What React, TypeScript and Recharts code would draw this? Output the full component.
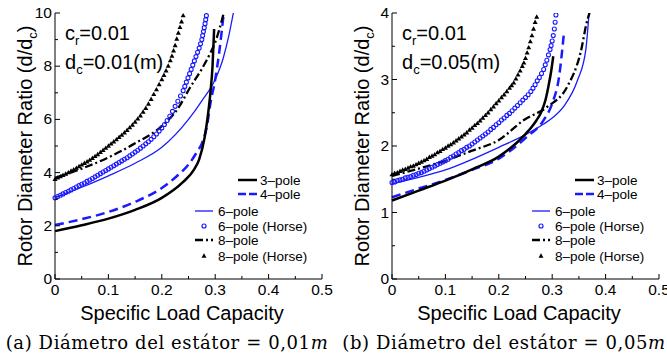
import React from 'react';
import { LineChart, Line, XAxis, YAxis } from 'recharts';

// ---- data ----
const xTicks = [0, 0.05, 0.1, 0.15, 0.2, 0.25, 0.3, 0.35, 0.4, 0.45, 0.5];
const yTicksA = [0, 1, 2, 3, 4, 5, 6, 7, 8, 9, 10];
const yTicksB = [0, 0.5, 1, 1.5, 2, 2.5, 3, 3.5, 4];

// panel (a): d_c = 0.01 m
const pole3A = [[0, 1.8], [0.05, 2.02], [0.1, 2.27], [0.15, 2.6], [0.2, 3.05], [0.24, 3.65], [0.26, 4.1], [0.27, 4.5], [0.28, 5.3], [0.286, 6.1], [0.291, 7.0], [0.295, 8.0], [0.298, 9.4]];
const pole4A = [[0, 2.03], [0.05, 2.25], [0.1, 2.52], [0.15, 2.9], [0.2, 3.42], [0.23, 3.9], [0.25, 4.3], [0.265, 4.75], [0.275, 5.1], [0.285, 5.8], [0.291, 6.6], [0.3, 7.5], [0.308, 8.6], [0.316, 10]];
const pole6A = [[0, 3.07], [0.05, 3.45], [0.1, 3.88], [0.15, 4.35], [0.2, 4.95], [0.25, 6.0], [0.275, 6.7], [0.3, 7.5], [0.315, 8.3], [0.325, 9.1], [0.334, 10]];
const pole6hA = [[0, 3.05], [0.005, 3.1], [0.01, 3.15], [0.015, 3.2], [0.02, 3.25], [0.025, 3.3], [0.03, 3.35], [0.035, 3.4], [0.04, 3.46], [0.045, 3.51], [0.05, 3.56], [0.055, 3.61], [0.06, 3.67], [0.065, 3.72], [0.07, 3.78], [0.075, 3.84], [0.08, 3.9], [0.085, 3.96], [0.09, 4.02], [0.095, 4.08], [0.1, 4.14], [0.105, 4.2], [0.11, 4.26], [0.115, 4.32], [0.12, 4.38], [0.125, 4.44], [0.13, 4.5], [0.135, 4.56], [0.14, 4.63], [0.145, 4.7], [0.15, 4.77], [0.155, 4.84], [0.16, 4.92], [0.165, 5.0], [0.17, 5.08], [0.175, 5.16], [0.18, 5.25], [0.185, 5.35], [0.19, 5.45], [0.195, 5.56], [0.2, 5.68], [0.205, 5.81], [0.21, 5.96], [0.215, 6.12], [0.22, 6.3], [0.225, 6.49], [0.23, 6.68], [0.235, 6.88], [0.24, 7.08], [0.243, 7.24], [0.246, 7.4], [0.249, 7.56], [0.252, 7.72], [0.255, 7.88], [0.258, 8.04], [0.261, 8.2], [0.264, 8.36], [0.267, 8.52], [0.27, 8.68], [0.2725, 8.84], [0.275, 9.0], [0.2765, 9.15], [0.278, 9.3], [0.2795, 9.45], [0.281, 9.6], [0.2822, 9.75], [0.2835, 9.9]];
const pole8A = [[0, 3.8], [0.05, 4.15], [0.1, 4.57], [0.15, 5.1], [0.2, 5.75], [0.23, 6.4], [0.253, 7.2], [0.275, 7.9], [0.291, 8.5], [0.3, 8.9], [0.308, 9.4], [0.316, 10]];
const pole8hA = [[0, 3.75], [0.005, 3.8], [0.01, 3.85], [0.015, 3.9], [0.02, 3.95], [0.025, 4.0], [0.03, 4.06], [0.035, 4.11], [0.04, 4.17], [0.045, 4.23], [0.05, 4.29], [0.055, 4.35], [0.06, 4.41], [0.065, 4.47], [0.07, 4.54], [0.075, 4.61], [0.08, 4.68], [0.085, 4.76], [0.09, 4.84], [0.095, 4.92], [0.1, 5.0], [0.105, 5.08], [0.11, 5.16], [0.115, 5.24], [0.12, 5.33], [0.125, 5.41], [0.13, 5.5], [0.135, 5.59], [0.14, 5.69], [0.145, 5.79], [0.15, 5.9], [0.155, 6.02], [0.16, 6.14], [0.165, 6.28], [0.17, 6.42], [0.175, 6.58], [0.18, 6.76], [0.185, 6.94], [0.19, 7.12], [0.195, 7.31], [0.2, 7.5], [0.204, 7.66], [0.208, 7.83], [0.212, 8.01], [0.216, 8.21], [0.219, 8.38], [0.222, 8.58], [0.225, 8.78], [0.228, 9.02], [0.231, 9.25], [0.234, 9.46], [0.237, 9.67], [0.24, 9.9]];

// panel (b): d_c = 0.05 m
const pole3B = [[0, 1.18], [0.05, 1.33], [0.1, 1.48], [0.15, 1.65], [0.2, 1.84], [0.25, 2.18], [0.26, 2.27], [0.27, 2.38], [0.28, 2.52], [0.287, 2.68], [0.293, 2.9], [0.298, 3.12], [0.302, 3.35]];
const pole4B = [[0, 1.23], [0.05, 1.36], [0.1, 1.49], [0.15, 1.64], [0.2, 1.81], [0.25, 2.12], [0.284, 2.39], [0.3, 2.64], [0.313, 3.05], [0.322, 3.7]];
const pole6B = [[0, 1.43], [0.05, 1.53], [0.1, 1.64], [0.15, 1.8], [0.2, 1.98], [0.25, 2.17], [0.284, 2.33], [0.3, 2.42], [0.322, 2.6], [0.347, 2.98], [0.363, 3.45], [0.369, 4.0]];
const pole6hB = [[0, 1.45], [0.005, 1.46], [0.01, 1.48], [0.015, 1.49], [0.02, 1.5], [0.025, 1.52], [0.03, 1.53], [0.035, 1.54], [0.04, 1.56], [0.045, 1.57], [0.05, 1.59], [0.055, 1.6], [0.06, 1.62], [0.065, 1.64], [0.07, 1.66], [0.075, 1.68], [0.08, 1.7], [0.085, 1.72], [0.09, 1.74], [0.095, 1.76], [0.1, 1.78], [0.105, 1.8], [0.11, 1.83], [0.115, 1.85], [0.12, 1.88], [0.125, 1.9], [0.13, 1.93], [0.135, 1.95], [0.14, 1.98], [0.145, 2.0], [0.15, 2.03], [0.155, 2.06], [0.16, 2.09], [0.165, 2.12], [0.17, 2.15], [0.175, 2.18], [0.18, 2.21], [0.185, 2.25], [0.19, 2.28], [0.195, 2.32], [0.2, 2.35], [0.205, 2.39], [0.21, 2.42], [0.215, 2.46], [0.22, 2.49], [0.225, 2.53], [0.23, 2.57], [0.235, 2.61], [0.24, 2.65], [0.245, 2.69], [0.25, 2.73], [0.255, 2.77], [0.26, 2.82], [0.264, 2.87], [0.268, 2.92], [0.272, 2.98], [0.276, 3.03], [0.28, 3.09], [0.284, 3.15], [0.287, 3.22], [0.29, 3.29], [0.293, 3.37], [0.296, 3.45], [0.298, 3.51], [0.3, 3.58], [0.302, 3.66], [0.304, 3.76], [0.3055, 3.86], [0.307, 3.97]];
const pole8B = [[0, 1.55], [0.05, 1.66], [0.1, 1.78], [0.15, 1.93], [0.2, 2.09], [0.247, 2.39], [0.291, 2.59], [0.328, 2.89], [0.353, 3.4], [0.366, 3.9], [0.37, 4.0]];
const pole8hB = [[0, 1.57], [0.005, 1.59], [0.01, 1.6], [0.015, 1.62], [0.02, 1.64], [0.025, 1.65], [0.03, 1.67], [0.035, 1.69], [0.04, 1.7], [0.045, 1.72], [0.05, 1.74], [0.055, 1.76], [0.06, 1.78], [0.065, 1.8], [0.07, 1.83], [0.075, 1.85], [0.08, 1.87], [0.085, 1.9], [0.09, 1.92], [0.095, 1.95], [0.1, 1.97], [0.105, 2.0], [0.11, 2.02], [0.115, 2.05], [0.12, 2.08], [0.125, 2.11], [0.13, 2.14], [0.135, 2.17], [0.14, 2.2], [0.145, 2.24], [0.15, 2.27], [0.155, 2.31], [0.16, 2.34], [0.165, 2.38], [0.17, 2.42], [0.175, 2.46], [0.18, 2.5], [0.185, 2.55], [0.19, 2.59], [0.195, 2.64], [0.2, 2.68], [0.205, 2.73], [0.21, 2.77], [0.215, 2.82], [0.22, 2.87], [0.224, 2.91], [0.228, 2.95], [0.232, 3.01], [0.236, 3.07], [0.24, 3.13], [0.244, 3.2], [0.247, 3.25], [0.25, 3.32], [0.253, 3.4], [0.256, 3.48], [0.259, 3.57], [0.262, 3.66], [0.265, 3.76], [0.268, 3.86], [0.271, 3.94]];

const BLUE = '#1a1aff';
const SANS = '"Liberation Sans", Arial, sans-serif';
const pts = (a: number[][]) => a.map(([x, y]) => ({ x, y }));
const near = (v: number, step: number) => Math.abs(v / step - Math.round(v / step)) < 1e-6;

// inward ticks, labels outside
const BottomTick = ({ x, y, payload }: any) => {
  const v = payload.value;
  const major = near(v, 0.1);
  return (
    <g>
      <line x1={x} x2={x} y1={y} y2={y - (major ? 5 : 3)} stroke="#000" />
      {major && (
        <text x={x} y={y + 16} textAnchor="middle" fontSize={15.5} fontFamily={SANS} fill="#000">
          {v === 0 ? '0' : String(Math.round(v * 10) / 10)}
        </text>
      )}
    </g>
  );
};
const TopTick = ({ x, y, payload }: any) => (
  <line x1={x} x2={x} y1={y} y2={y + (near(payload.value, 0.1) ? 5 : 3)} stroke="#000" />
);
const makeLeftTick = (step: number) => ({ x, y, payload }: any) => {
  const major = near(payload.value, step);
  return (
    <g>
      <line x1={x} x2={x + (major ? 5 : 3)} y1={y} y2={y} stroke="#000" />
      {major && (
        <text x={x - 3} y={y + 5} textAnchor="end" fontSize={15.5} fontFamily={SANS} fill="#000">
          {payload.value}
        </text>
      )}
    </g>
  );
};
const makeRightTick = (step: number) => ({ x, y, payload }: any) => (
  <line x1={x} x2={x - (near(payload.value, step) ? 5 : 3)} y1={y} y2={y} stroke="#000" />
);

const Tri = (props: any) => {
  const { cx, cy, index } = props;
  if (cx == null || cy == null) return <g key={index} />;
  return <path key={index} d={`M${cx},${cy - 2.7}L${cx + 2.5},${cy + 1.7}L${cx - 2.5},${cy + 1.7}Z`} fill="#000" />;
};

const Legend6 = () => (
  <svg width={335} height={300} style={{ position: 'absolute', left: 0, top: 0, pointerEvents: 'none' }}>
    <g fontFamily={SANS} fontSize={13.5} fill="#000">
      <line x1={238} x2={257} y1={180} y2={180} stroke="#000" strokeWidth={2.5} />
      <text x={260} y={185}>3–pole</text>
      <line x1={238} x2={257} y1={194} y2={194} stroke={BLUE} strokeWidth={2.5} strokeDasharray="8 3" />
      <text x={260} y={199}>4–pole</text>
      <line x1={195} x2={213} y1={211} y2={211} stroke={BLUE} strokeWidth={1.3} />
      <text x={218} y={216}>6–pole</text>
      <circle cx={204} cy={226} r={2} stroke={BLUE} strokeWidth={1.2} fill="none" />
      <text x={218} y={231}>6–pole (Horse)</text>
      <line x1={195} x2={213} y1={240} y2={240} stroke="#000" strokeWidth={2.3} strokeDasharray="8 3 2 3" />
      <text x={218} y={245}>8–pole</text>
      <path d="M204,253.3L206.5,257.7L201.5,257.7Z" fill="#000" />
      <text x={218} y={261}>8–pole (Horse)</text>
    </g>
  </svg>
);

const sub = { fontSize: 13, lineHeight: 0 };

const Panel = ({ left, yMax, yTicks, yStep, s, dc, dcComma, tag }: any) => (
  <div style={{ position: 'absolute', left, top: 0, width: 335, height: 364 }}>
    <LineChart width={335} height={300} margin={{ top: 13, right: 13, left: 5, bottom: 0 }}>
      <XAxis type="number" dataKey="x" domain={[0, 0.5]} ticks={xTicks} interval={0} height={21}
        tickSize={0} tickMargin={0} tickLine={false} axisLine={{ stroke: '#000' }} tick={<BottomTick />} />
      <XAxis xAxisId="top" orientation="top" type="number" dataKey="x" domain={[0, 0.5]} ticks={xTicks} interval={0} height={0}
        tickSize={0} tickMargin={0} tickLine={false} axisLine={{ stroke: '#000' }} tick={<TopTick />} />
      <YAxis type="number" domain={[0, yMax]} ticks={yTicks} interval={0} width={50} allowDataOverflow
        tickSize={0} tickMargin={0} tickLine={false} axisLine={{ stroke: '#000' }} tick={makeLeftTick(yStep)} />
      <YAxis yAxisId="right" orientation="right" type="number" domain={[0, yMax]} ticks={yTicks} interval={0} width={0}
        tickSize={0} tickMargin={0} tickLine={false} axisLine={{ stroke: '#000' }} tick={makeRightTick(yStep)} />
      <Line data={pts(s.p6)} dataKey="y" type="monotone" stroke={BLUE} strokeWidth={1.3} dot={false} isAnimationActive={false} />
      <Line data={pts(s.p4)} dataKey="y" type="monotone" stroke={BLUE} strokeWidth={2.5} strokeDasharray="9 5" dot={false} isAnimationActive={false} />
      <Line data={pts(s.p3)} dataKey="y" type="monotone" stroke="#000" strokeWidth={2.5} dot={false} isAnimationActive={false} />
      <Line data={pts(s.p8)} dataKey="y" type="monotone" stroke="#000" strokeWidth={2.3} strokeDasharray="8 3 2 3" dot={false} isAnimationActive={false} />
      <Line data={pts(s.p6h)} dataKey="y" stroke="none" dot={{ r: 2, stroke: BLUE, strokeWidth: 1.1, fill: 'none' }} isAnimationActive={false} />
      <Line data={pts(s.p8h)} dataKey="y" stroke="none" dot={<Tri />} isAnimationActive={false} />
    </LineChart>
    <Legend6 />
    <div style={{ position: 'absolute', left: 65, top: 19, fontFamily: SANS, fontSize: 20, lineHeight: '29px', whiteSpace: 'nowrap', color: '#000' }}>
      <div>c<sub style={sub}>r</sub>=0.01</div>
      <div>d<sub style={sub}>c</sub>={dc}(m)</div>
    </div>
    <div style={{ position: 'absolute', left: 25, top: 146, width: 0, height: 0 }}>
      <div style={{ position: 'absolute', left: -150, top: -12, width: 300, textAlign: 'center', transform: 'rotate(-90deg)',
        fontFamily: SANS, fontSize: 20, lineHeight: '24px', whiteSpace: 'nowrap', color: '#000' }}>
        Rotor Diameter Ratio (d/d<sub style={sub}>c</sub>)
      </div>
    </div>
    <div style={{ position: 'absolute', left: 34, top: 301, width: 296, textAlign: 'center', fontFamily: SANS, fontSize: 20, lineHeight: '24px', whiteSpace: 'nowrap', color: '#000' }}>
      Specific Load Capacity
    </div>
    <div style={{ position: 'absolute', left: -3, top: 331, width: 340, textAlign: 'center', fontFamily: '"DejaVu Serif", serif', fontSize: 18, letterSpacing: 0.6, lineHeight: '24px', whiteSpace: 'nowrap', color: '#000' }}>
      ({tag}) Diámetro del estátor = {dcComma}<i>m</i>
    </div>
  </div>
);

export default function App() {
  const a = { p3: pole3A, p4: pole4A, p6: pole6A, p6h: pole6hA, p8: pole8A, p8h: pole8hA };
  const b = { p3: pole3B, p4: pole4B, p6: pole6B, p6h: pole6hB, p8: pole8B, p8h: pole8hB };
  return (
    <div style={{ position: 'absolute', left: 0, top: 0, width: 667, height: 364, overflow: 'hidden', background: '#fff' }}>
      <Panel left={0} yMax={10} yTicks={yTicksA} yStep={2} s={a} dc="0.01" dcComma="0,01" tag="a" />
      <Panel left={337} yMax={4} yTicks={yTicksB} yStep={1} s={b} dc="0.05" dcComma="0,05" tag="b" />
    </div>
  );
}
